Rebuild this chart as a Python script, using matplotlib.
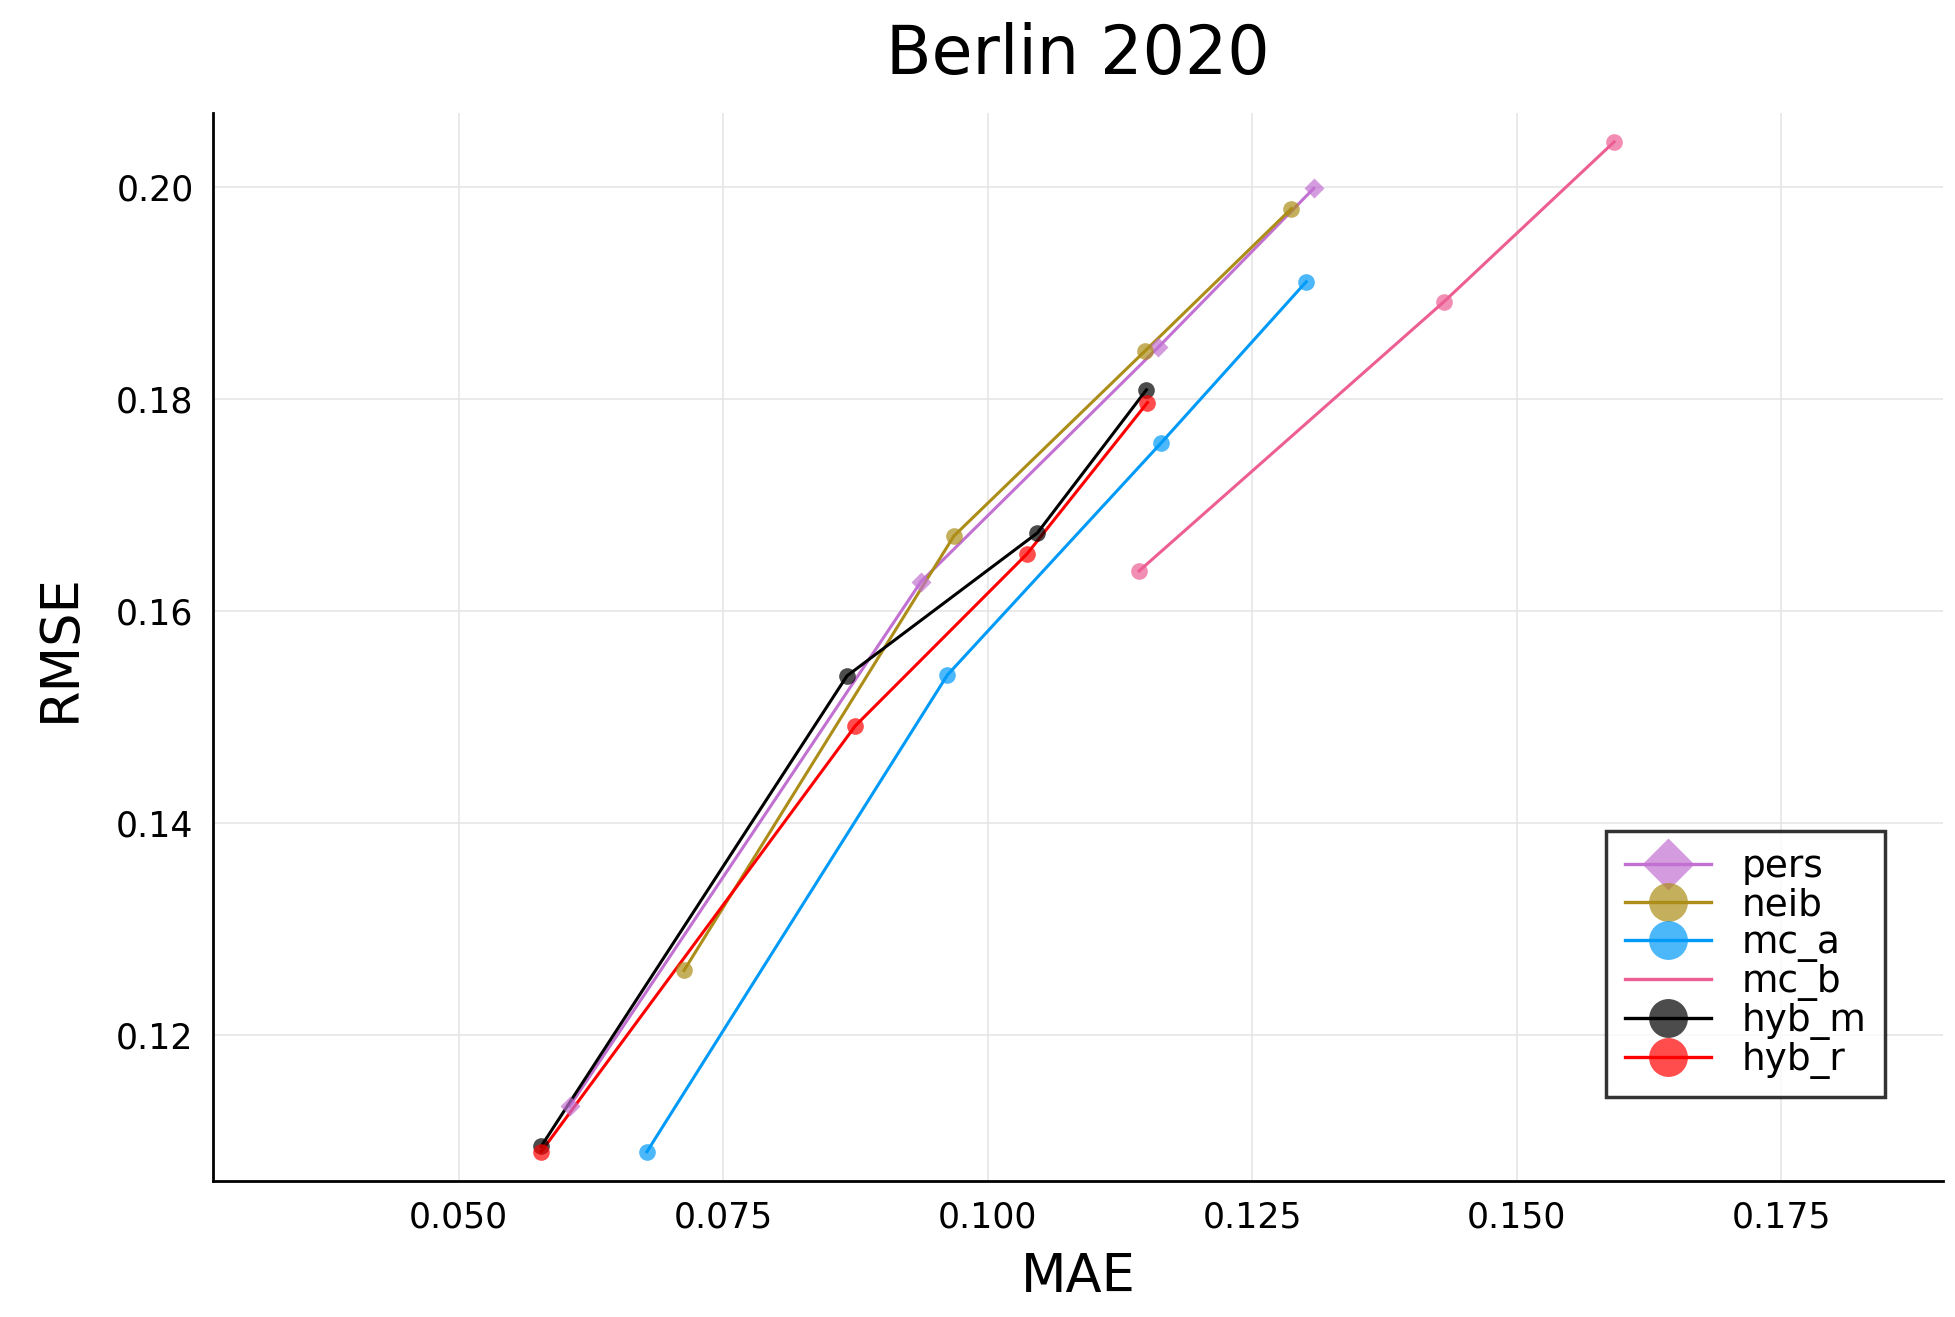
import matplotlib
matplotlib.use("Agg")
import matplotlib.pyplot as plt

names = ["pers", "neib", "mc_a", "mc_b", "hyb_m", "hyb_r"]
mae = {
    "pers": [0.0605, 0.0937, 0.1161, 0.1308],
    "neib": [0.0713, 0.0968, 0.1149, 0.1287],
    "mc_a": [0.0678, 0.0962, 0.1164, 0.1301],
    "mc_b": [0.1143, 0.1431, 0.1592],
    "hyb_m": [0.0578, 0.0867, 0.1047, 0.1150],
    "hyb_r": [0.0578, 0.0875, 0.1037, 0.1151],
}
rmse = {
    "pers": [0.1133, 0.1628, 0.1849, 0.1999],
    "neib": [0.1261, 0.1671, 0.1846, 0.1980],
    "mc_a": [0.1090, 0.1540, 0.1759, 0.1911],
    "mc_b": [0.1638, 0.1892, 0.2043],
    "hyb_m": [0.1095, 0.1539, 0.1674, 0.1809],
    "hyb_r": [0.1090, 0.1492, 0.1654, 0.1797],
}
colors = {"pers": "#c271d2", "neib": "#ac8d18", "mc_a": "#009af9",
          "mc_b": "#ed5e93", "hyb_m": "#000000", "hyb_r": "#ff0000"}
markers = {"pers": "D", "neib": "o", "mc_a": "o", "mc_b": None, "hyb_m": "o", "hyb_r": "o"}
xticks = [0.050, 0.075, 0.100, 0.125, 0.150, 0.175]
yticks = [0.12, 0.14, 0.16, 0.18, 0.20]

fig = plt.figure(figsize=(19.55, 13.17), dpi=100)
ax = fig.add_axes([0.109, 0.103, 0.885, 0.811])
for n in names:
    c = colors[n]
    ax.plot(mae[n], rmse[n], color=c, lw=2.2, zorder=2)
    ax.plot(mae[n], rmse[n], ls="none", marker="D" if n == "pers" else "o",
            ms=10 if n == "pers" else 12, color=c, alpha=0.7, mec="none", zorder=3)
handles = []
for n in names:
    m = markers[n]
    h, = ax.plot([], [], color=colors[n], lw=2.4, marker=m if m else "",
                 ms=26 if m == "D" else 28, mec="none",
                 markerfacecolor=(colors[n] + "b3") if m else None)
    handles.append(h)
leg = ax.legend(handles, names, loc="lower right", fontsize=27, frameon=True,
                fancybox=False, edgecolor="black", handlelength=2.3,
                borderaxespad=1.1, labelspacing=0.05, borderpad=0.5,
                bbox_to_anchor=(0.99, 0.04))
leg.get_frame().set_linewidth(2.5)

ax.set_xlim(0.0268, 0.1903)
ax.set_ylim(0.1062, 0.207)
ax.set_xticks(xticks)
ax.set_xticklabels([f"{v:.3f}" for v in xticks])
ax.set_yticks(yticks)
ax.set_yticklabels([f"{v:.2f}" for v in yticks])
ax.tick_params(labelsize=25, length=0, pad=14)
ax.grid(True, color="#e6e6e6", lw=1.2)
for s in ["top", "right"]:
    ax.spines[s].set_visible(False)
for s in ["left", "bottom"]:
    ax.spines[s].set_linewidth(2)
ax.set_xlabel("MAE", fontsize=38, labelpad=12)
ax.set_ylabel("RMSE", fontsize=38, labelpad=22)
ax.set_title("Berlin 2020", fontsize=48, pad=28)
fig.savefig("out.png", dpi=100)
